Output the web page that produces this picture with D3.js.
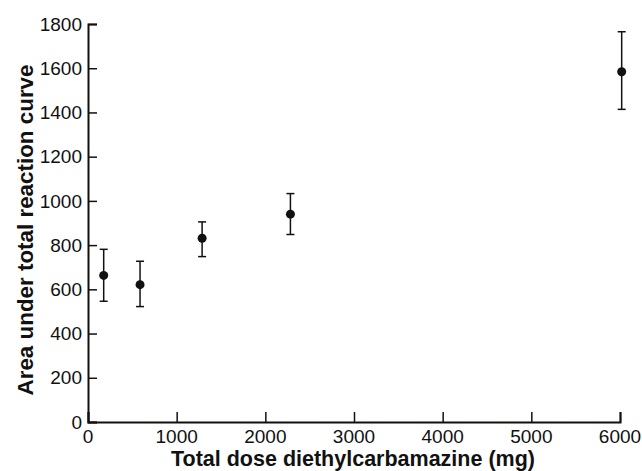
<!DOCTYPE html>
<html>
<head>
<meta charset="utf-8">
<script src="https://d3js.org/d3.v7.min.js"></script>
<style>
    body { margin: 0; background: #ffffff; }
    text { font-family: "Liberation Sans", Arial, sans-serif; fill: #111111; }
    .tick-label { font-size: 19px; }
    .axis-title { font-size: 21.5px; font-weight: bold; }
    .axis-title.y-title { font-size: 22.4px; }
</style>
</head>
<body>
<div id="chart"></div>
<script>

    // data
    const dose = [177, 587, 1287, 2283, 6019];
    const area = [663, 621, 831, 940, 1584];
    const errLow = [546, 522, 748, 848, 1414];
    const errHigh = [781, 727, 905, 1033, 1765];

    const xTicks = [0, 1000, 2000, 3000, 4000, 5000, 6000];
    const yTicks = [0, 200, 400, 600, 800, 1000, 1200, 1400, 1600, 1800];

    const width = 642, height = 471;
    const margin = {top: 24, right: 22, bottom: 49, left: 88};

    const svg = d3.select("#chart")
        .append("svg")
        .attr("width", width)
        .attr("height", height);

    const x = d3.scaleLinear()
        .domain([0, 6000])
        .range([margin.left, width - margin.right]);

    const y = d3.scaleLinear()
        .domain([0, 1800])
        .range([height - margin.bottom, margin.top]);

    const points = dose.map((d, i) => ({dose: d, area: area[i], lo: errLow[i], hi: errHigh[i]}));

    // X axis, ticks pointing up into the plot
    const gx = svg.append("g")
        .attr("transform", `translate(0, ${y(0)})`)
        .call(d3.axisTop(x).tickValues(xTicks).tickSize(10).tickFormat(""));
    gx.select(".domain").attr("stroke", "#111").attr("stroke-width", 2);
    gx.selectAll(".tick line").attr("stroke", "#111").attr("stroke-width", 1.5);

    svg.selectAll(".xlab")
        .data(xTicks)
        .join("text")
        .attr("class", "tick-label")
        .attr("x", d => x(d))
        .attr("y", y(0) + 21)
        .attr("text-anchor", "middle")
        .text(d => d);

    // Y axis, ticks pointing right into the plot
    const gy = svg.append("g")
        .attr("transform", `translate(${x(0)}, 0)`)
        .call(d3.axisRight(y).tickValues(yTicks).tickSize(9).tickFormat(""));
    gy.select(".domain").attr("stroke", "#111").attr("stroke-width", 2);
    gy.selectAll(".tick line").attr("stroke", "#111").attr("stroke-width", 1.5);

    svg.selectAll(".ylab")
        .data(yTicks)
        .join("text")
        .attr("class", "tick-label")
        .attr("x", x(0) - 6)
        .attr("y", d => y(d))
        .attr("dy", "0.35em")
        .attr("text-anchor", "end")
        .text(d => d);

    // axis titles
    svg.append("text")
        .attr("class", "axis-title")
        .attr("x", 353)
        .attr("y", 466)
        .attr("text-anchor", "middle")
        .text("Total dose diethylcarbamazine (mg)");

    svg.append("text")
        .attr("class", "axis-title y-title")
        .attr("transform", `translate(33, 230) rotate(-90)`)
        .attr("text-anchor", "middle")
        .text("Area under total reaction curve");

    // error bars
    svg.selectAll(".err")
        .data(points)
        .join("line")
        .attr("x1", d => x(d.dose))
        .attr("x2", d => x(d.dose))
        .attr("y1", d => y(d.lo))
        .attr("y2", d => y(d.hi))
        .attr("stroke", "#111")
        .attr("stroke-width", 1.5);

    const capW = 4;
    ["lo", "hi"].forEach(k => {
        svg.selectAll(".cap-" + k)
            .data(points)
            .join("line")
            .attr("x1", d => x(d.dose) - capW)
            .attr("x2", d => x(d.dose) + capW)
            .attr("y1", d => y(d[k]))
            .attr("y2", d => y(d[k]))
            .attr("stroke", "#111")
            .attr("stroke-width", 1.5);
    });

    // points
    svg.selectAll(".pt")
        .data(points)
        .join("circle")
        .attr("cx", d => x(d.dose))
        .attr("cy", d => y(d.area))
        .attr("r", 4.5)
        .attr("fill", "#111");

</script>
</body>
</html>
